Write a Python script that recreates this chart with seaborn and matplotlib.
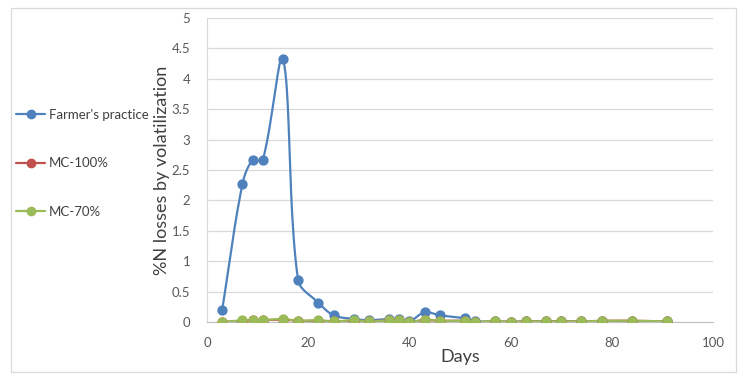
import numpy as np
import pandas as pd
import matplotlib
matplotlib.use("Agg")
import matplotlib.pyplot as plt
from matplotlib.lines import Line2D
from matplotlib.patches import Rectangle
import seaborn as sns

# Datos
dias = [3, 7, 9, 11, 15, 18, 22, 25, 29, 32, 36, 38, 40, 43, 46, 51, 53, 57, 60, 63, 67, 70, 74, 78, 84, 91]
farmer = [0.20, 2.27, 2.66, 2.66, 4.33, 0.69, 0.32, 0.11, 0.05, 0.03, 0.05, 0.05, 0.01, 0.16, 0.11, 0.06,
          0.01, 0.01, 0.00, 0.01, 0.01, 0.01, 0.01, 0.01, 0.01, 0.01]
mc100 = [0.00, 0.02, 0.03, 0.03, 0.04, 0.02, 0.02, 0.01, 0.02, 0.01, 0.03, 0.03, 0.00, 0.03, 0.02, 0.02,
         0.00, 0.01, 0.00, 0.01, 0.01, 0.01, 0.01, 0.02, 0.02, 0.01]
mc70 = [0.00, 0.03, 0.03, 0.03, 0.05, 0.02, 0.03, 0.01, 0.03, 0.01, 0.03, 0.04, 0.00, 0.04, 0.02, 0.02,
        0.00, 0.02, 0.00, 0.01, 0.01, 0.01, 0.01, 0.02, 0.02, 0.01]
series = ["Farmer's practice", "MC-100%", "MC-70%"]
colores = ["#4F81BD", "#C0504D", "#9BBB59"]


def suavizar(ax, x, y, n=24, k=1 / 3):
    # curva suave estilo Excel, calculada en pixeles (tangentes ponderadas por cuerdas)
    pts = ax.transData.transform(np.column_stack([x, y]))
    m = len(pts)
    tang = []
    for i in range(m):
        a = pts[max(i - 1, 0)]
        b = pts[min(i + 1, m - 1)]
        d = np.linalg.norm(pts[i] - a) + np.linalg.norm(b - pts[i])
        tang.append((b - a) / d if d > 0 else np.zeros(2))
    curva = []
    for i in range(m - 1):
        p1, p2 = pts[i], pts[i + 1]
        L = np.linalg.norm(p2 - p1)
        c1 = p1 + tang[i] * L * k
        c2 = p2 - tang[i + 1] * L * k
        t = np.linspace(0, 1, n)[:, None]
        curva.append((1 - t) ** 3 * p1 + 3 * (1 - t) ** 2 * t * c1 + 3 * (1 - t) * t ** 2 * c2 + t ** 3 * p2)
    curva = ax.transData.inverted().transform(np.vstack(curva))
    return curva[:, 0], curva[:, 1]


sns.set_style("white")
plt.rcParams["font.family"] = ["Lato", "DejaVu Sans"]

fig = plt.figure(figsize=(7.42, 3.83), dpi=100)
ax = fig.add_axes([207 / 742, 61 / 383, 506 / 742, 304 / 383])
ax.set_xlim(0, 100)
ax.set_ylim(0, 5)

for nombre, vals, col in zip(series, [farmer, mc100, mc70], colores):
    sx, sy = suavizar(ax, dias, vals)
    sns.lineplot(x=sx, y=sy, ax=ax, color=col, linewidth=1.6, sort=False, estimator=None)
    sns.scatterplot(x=dias, y=vals, ax=ax, color=col, s=55, edgecolor=col, linewidth=0, zorder=3)

ax.set_xlim(0, 100)
ax.set_ylim(0, 5)
ax.set_xticks(range(0, 101, 20))
ax.set_yticks(np.arange(0, 5.01, 0.5))
ax.set_yticklabels(["%g" % v for v in np.arange(0, 5.01, 0.5)])
ax.yaxis.grid(True, color="#D9D9D9", linewidth=0.9)
ax.set_axisbelow(True)
for s in ["top", "right"]:
    ax.spines[s].set_visible(False)
ax.spines["left"].set_color("#D9D9D9")
ax.spines["bottom"].set_color("#BFBFBF")
ax.tick_params(axis="both", length=0, labelsize=9.5, labelcolor="#595959")
ax.tick_params(axis="y", pad=12)
ax.tick_params(axis="x", pad=11)
ax.set_xlabel("Days", fontsize=13, color="#404040", labelpad=0)
ax.set_ylabel("%N losses by volatilization", fontsize=13, color="#404040")
ax.yaxis.set_label_coords((170 - 207) / 506, 0.5)

handles = [Line2D([0], [0], color=c, marker="o", markersize=6, linewidth=1.6) for c in colores]
fig.legend(handles, series, loc="upper left", bbox_to_anchor=(16 / 742, 1 - 109 / 383),
           frameon=False, fontsize=9.5, labelcolor="#404040", handlelength=2.2,
           handletextpad=0.3, labelspacing=2.75, borderpad=0, borderaxespad=0)

fig.patches.append(Rectangle((11 / 742, 1 - 372 / 383), 725 / 742, 364 / 383,
                             transform=fig.transFigure, fill=False, edgecolor="#D9D9D9", linewidth=0.9))

fig.savefig("out.png", dpi=100)
